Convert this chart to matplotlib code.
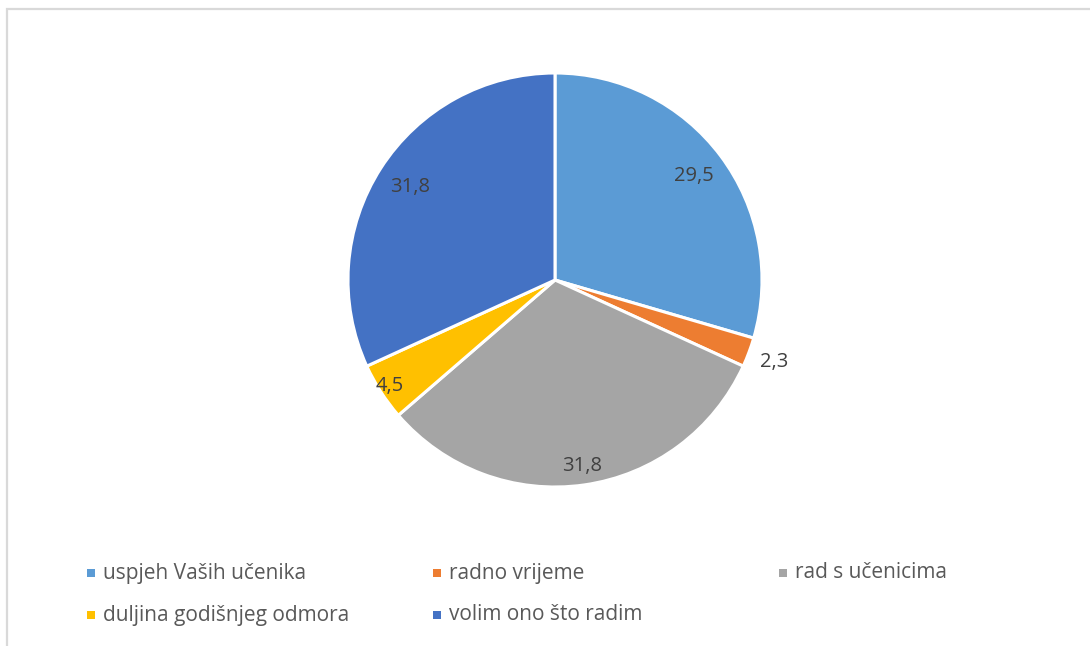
import numpy as np
import matplotlib
matplotlib.use('Agg')
import matplotlib.pyplot as plt
from matplotlib.patches import Rectangle

# data
labels = ['uspjeh Vaših učenika', 'radno vrijeme', 'rad s učenicima',
          'duljina godišnjeg odmora', 'volim ono što radim']
values = [29.5, 2.3, 31.8, 4.5, 31.8]
value_text = ['29,5', '2,3', '31,8', '4,5', '31,8']

colors = ['#5B9BD5', '#ED7D31', '#A5A5A5', '#FFC000', '#4472C4']
label_r = [0.84, 1.13, 0.91, 0.95, 0.83]   # label distance per slice (Excel best fit)

plt.rcParams['font.family'] = ['Open Sans', 'DejaVu Sans']

W, H = 1090, 646
fig = plt.figure(figsize=(W / 100, H / 100), dpi=100)
fig.patch.set_facecolor('white')

# chart frame
fig.add_artist(Rectangle((7 / W, -0.1), 1.2, (H - 9.5) / H + 0.1,
                         transform=fig.transFigure, fill=False,
                         edgecolor='#D9D9D9', linewidth=1.6))

cx, cy, R = 555, 280, 207
ax = fig.add_axes([(cx - R) / W, (H - cy - R) / H, 2 * R / W, 2 * R / H])
wedges, _ = ax.pie(values, colors=colors, startangle=90, counterclock=False,
                   radius=1.0, wedgeprops=dict(edgecolor='white', linewidth=2.2))
ax.set_xlim(-1, 1)
ax.set_ylim(-1, 1)
ax.set_aspect('equal')
ax.axis('off')

total = sum(values)
start = 90.0
for v, txt, r in zip(values, value_text, label_r):
    span = v / total * 360
    mid = np.deg2rad(start - span / 2)
    start -= span
    ax.text(r * np.cos(mid), r * np.sin(mid), txt, ha='center', va='center',
            fontsize=14.5, color='#404040')

# legend, three columns
col_x = [87, 433, 779]
row_y = [573, 615]
for i, (lab, c) in enumerate(zip(labels, colors)):
    x = col_x[i % 3]
    y = row_y[i // 3]
    fig.add_artist(Rectangle((x / W, (H - y - 4) / H), 8 / W, 8 / H,
                             transform=fig.transFigure, facecolor=c, edgecolor='none'))
    fig.text((x + 16) / W, (H - y) / H, lab, ha='left', va='center',
             fontsize=15, color='#595959')

fig.savefig('out.png', dpi=100, facecolor='white')
